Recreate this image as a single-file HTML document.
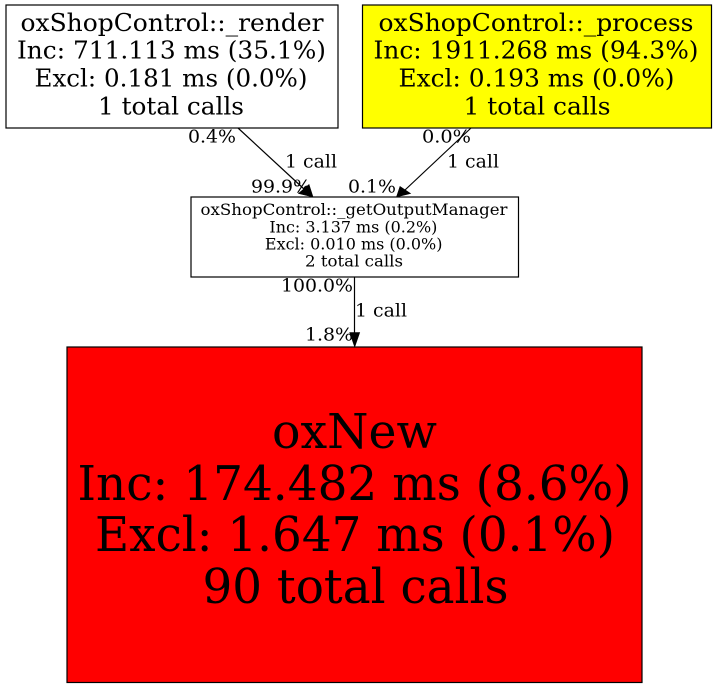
<!DOCTYPE html>
<html><head><meta charset="utf-8"><style>
html,body{margin:0;padding:0;background:#fff}
svg{display:block}
text{font-family:"DejaVu Serif",serif;fill:#000;text-anchor:middle}
</style></head><body>
<svg width="717" height="688" viewBox="0 0 717 688" xmlns="http://www.w3.org/2000/svg">
<rect width="717" height="688" fill="#fff"/>
<g stroke="#000" stroke-width="1.2">
<rect x="6" y="5" width="332" height="123" fill="#fff"/>
<rect x="362.500" y="5" width="349" height="123" fill="#ff0"/>
<rect x="191" y="197" width="327.500" height="80" fill="#fff"/>
<rect x="67" y="347" width="575" height="335.500" fill="#f00"/>
<path d="M238 128L304 189" fill="none"/>
<path d="M471 128L405 190" fill="none"/>
<path d="M354.500 277V333" fill="none"/>
</g>
<path d="M298.500 193.500L313 197L309 184.500Z M400 186.500L396.500 197L410.500 193.500Z M349.700 332.500L354.700 347L359.700 332.500Z" fill="#000" stroke="#000" stroke-width="0.6"/>
<g font-size="24.500">
<text x="172" y="31" textLength="303" lengthAdjust="spacingAndGlyphs">oxShopControl::_render</text>
<text x="171.500" y="58.500" textLength="309" lengthAdjust="spacingAndGlyphs">Inc: 711.113 ms (35.1%)</text>
<text x="171" y="86.500" textLength="273" lengthAdjust="spacingAndGlyphs">Excl: 0.181 ms (0.0%)</text>
<text x="171" y="114.500" textLength="146" lengthAdjust="spacingAndGlyphs">1 total calls</text>
<text x="536" y="31" textLength="315" lengthAdjust="spacingAndGlyphs">oxShopControl::_process</text>
<text x="536" y="58.500" textLength="325" lengthAdjust="spacingAndGlyphs">Inc: 1911.268 ms (94.3%)</text>
<text x="536.500" y="86.500" textLength="276" lengthAdjust="spacingAndGlyphs">Excl: 0.193 ms (0.0%)</text>
<text x="537" y="114.500" textLength="147" lengthAdjust="spacingAndGlyphs">1 total calls</text>
</g>
<g font-size="15.500">
<text x="354" y="215" textLength="307" lengthAdjust="spacingAndGlyphs">oxShopControl::_getOutputManager</text>
<text x="353.400" y="232.700" textLength="168" lengthAdjust="spacingAndGlyphs">Inc: 3.137 ms (0.2%)</text>
<text x="353.700" y="249.500" textLength="177.500" lengthAdjust="spacingAndGlyphs">Excl: 0.010 ms (0.0%)</text>
<text x="354" y="266.700" textLength="98" lengthAdjust="spacingAndGlyphs">2 total calls</text>
</g>
<g font-size="47.500">
<text x="354.500" y="448" textLength="165" lengthAdjust="spacingAndGlyphs">oxNew</text>
<text x="354.500" y="500" textLength="554" lengthAdjust="spacingAndGlyphs">Inc: 174.482 ms (8.6%)</text>
<text x="355" y="551" textLength="520" lengthAdjust="spacingAndGlyphs">Excl: 1.647 ms (0.1%)</text>
<text x="355.500" y="603" textLength="306" lengthAdjust="spacingAndGlyphs">90 total calls</text>
</g>
<g font-size="17.500">
<text x="212" y="142.500" textLength="48" lengthAdjust="spacingAndGlyphs">0.4%</text>
<text x="311" y="167.700" textLength="52" lengthAdjust="spacingAndGlyphs">1 call</text>
<text x="281" y="192.500" textLength="60" lengthAdjust="spacingAndGlyphs">99.9%</text>
<text x="446.500" y="142.500" textLength="49" lengthAdjust="spacingAndGlyphs">0.0%</text>
<text x="473" y="167.700" textLength="52" lengthAdjust="spacingAndGlyphs">1 call</text>
<text x="372" y="192.500" textLength="48" lengthAdjust="spacingAndGlyphs">0.1%</text>
<text x="317" y="291.700" textLength="72" lengthAdjust="spacingAndGlyphs">100.0%</text>
<text x="381" y="316.700" textLength="52" lengthAdjust="spacingAndGlyphs">1 call</text>
<text x="329" y="340.500" textLength="48" lengthAdjust="spacingAndGlyphs">1.8%</text>
</g>
</svg>
</body></html>
